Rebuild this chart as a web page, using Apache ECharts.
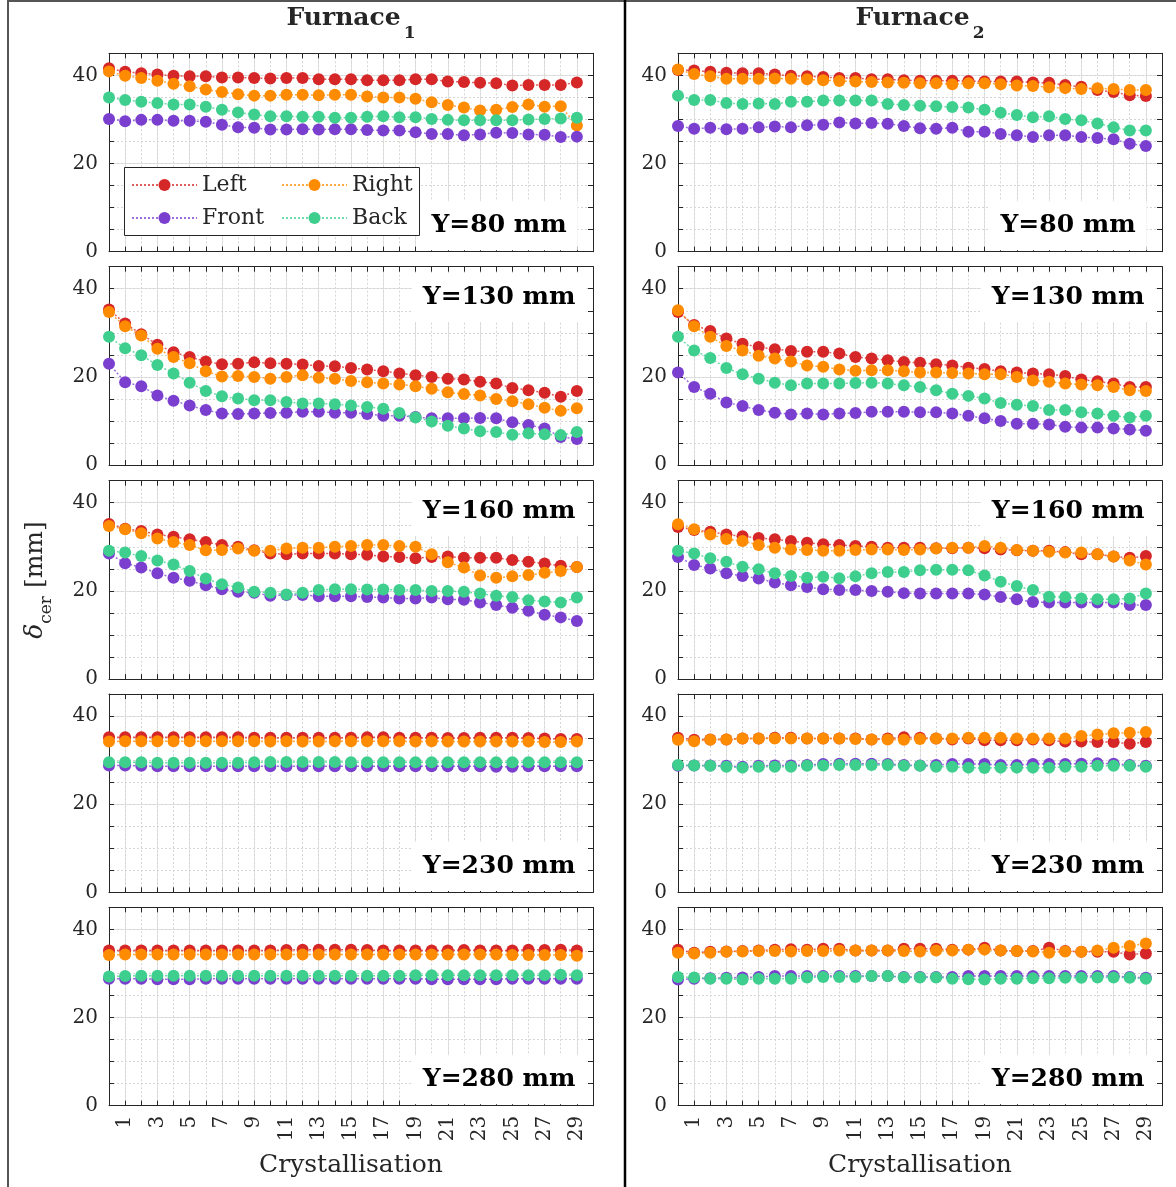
<!DOCTYPE html>
<html>
<head>
<meta charset="utf-8">
<script src="https://cdn.jsdelivr.net/npm/echarts@6/dist/echarts.min.js"></script>
<style>
  html, body { margin: 0; padding: 0; background: #ffffff; }
  #chart { width: 1176px; height: 1187px; }
</style>
</head>
<body>
<div id="chart"></div>
<script>
// ---- data -------------------------------------------------------------
const crystallisations = [0,1,2,3,4,5,6,7,8,9,10,11,12,13,14,15,16,17,18,19,20,21,22,23,24,25,26,27,28,29];
const xTickLabels = [1,3,5,7,9,11,13,15,17,19,21,23,25,27,29];
const yTickLabels = [0,20,40];
const sideNames = ['Left','Right','Front','Back'];
const furnaceTitles = ['Furnace', 'Furnace'];
const furnaceSubscripts = ['1', '2'];
const heightLabels = ['Y=80 mm','Y=130 mm','Y=160 mm','Y=230 mm','Y=280 mm'];

// Furnace 1
const f1_y80_left  = [41.6,40.8,40.5,40.2,39.9,39.8,39.8,39.5,39.5,39.4,39.3,39.4,39.4,39.1,39.1,39.1,38.9,38.9,38.9,39.1,39.1,38.6,38.5,38.3,38.2,37.7,37.8,37.8,37.8,38.4];
const f1_y80_right = [40.9,39.9,39.4,38.8,38.1,37.5,36.8,36.2,35.7,35.4,35.4,35.6,35.6,35.5,35.6,35.6,35.2,35.0,35.0,34.7,33.9,33.3,32.7,32.0,32.2,32.8,33.4,32.9,33.0,28.6];
const f1_y80_front = [30.1,29.6,29.9,29.9,29.7,29.7,29.5,28.8,28.2,28.1,27.7,27.7,27.8,27.7,27.8,27.8,27.6,27.5,27.5,27.1,26.7,26.7,26.4,26.6,27.0,26.9,26.6,26.5,26.0,26.1];
const f1_y80_back  = [35.0,34.4,34.0,33.7,33.4,33.4,32.9,32.2,31.6,31.1,30.7,30.7,30.6,30.6,30.4,30.4,30.6,30.7,30.5,30.5,30.1,29.9,29.8,29.8,29.8,29.8,30.0,30.1,30.2,30.4];

const f1_y130_left  = [35.3,32.1,29.7,27.3,25.6,24.5,23.5,22.9,23.0,23.3,23.1,23.0,22.8,22.5,22.4,22.0,21.7,21.3,20.8,20.4,20.0,19.6,19.4,18.9,18.5,17.5,17.0,16.4,15.5,16.8];
const f1_y130_right = [34.7,31.5,29.4,26.4,24.5,23.1,21.3,20.1,20.2,20.0,19.6,20.0,20.4,19.8,19.6,19.1,18.8,18.5,18.3,17.9,17.3,16.5,16.1,15.8,15.0,14.5,13.8,13.0,12.3,12.9];
const f1_y130_front = [23.0,18.8,17.9,15.8,14.6,13.5,12.5,11.7,11.6,11.7,11.8,11.9,12.1,12.1,11.9,11.9,11.6,11.2,11.2,10.9,10.6,10.6,10.6,10.7,10.6,9.7,9.1,8.3,6.4,5.9];
const f1_y130_back  = [29.1,26.5,24.9,22.7,20.8,18.7,16.8,15.6,15.1,14.7,14.7,14.3,14.0,14.0,13.8,13.5,13.2,12.8,11.8,10.8,9.9,8.9,8.3,7.7,7.5,6.9,7.2,7.0,6.8,7.5];

const f1_y160_left  = [35.2,34.1,33.6,32.8,32.3,31.7,31.1,30.4,30.0,29.2,28.5,28.3,28.5,28.5,28.5,28.3,28.2,27.8,27.7,27.4,27.7,27.8,27.5,27.5,27.5,27.0,26.6,26.2,25.7,25.4];
const f1_y160_right = [34.7,34.0,33.1,31.9,31.1,30.4,29.2,29.3,29.6,29.1,29.1,29.6,29.8,29.8,30.0,30.2,30.4,30.4,30.2,30.0,28.3,26.5,25.3,23.5,23.0,23.3,23.6,24.1,24.5,25.4];
const f1_y160_front = [28.5,26.3,25.3,24.0,23.0,22.3,21.3,20.4,19.8,19.6,18.9,19.1,19.1,18.8,18.8,18.8,18.6,18.5,18.3,18.3,18.5,18.1,18.0,17.4,16.8,16.2,15.5,14.6,14.0,13.2];
const f1_y160_back  = [29.1,28.7,27.9,26.9,26.0,24.5,22.8,21.5,20.8,19.8,19.6,19.2,19.6,20.2,20.4,20.4,20.3,20.3,20.2,20.2,20.0,20.0,19.8,19.4,18.9,18.6,17.9,17.6,17.4,18.5];

const f1_y230_left  = [35.2,35.2,35.2,35.2,35.2,35.2,35.2,35.2,35.2,35.1,35.1,35.1,35.1,35.1,35.1,35.1,35.2,35.2,35.1,35.1,35.1,35.0,35.0,35.1,35.1,35.1,35.0,34.9,34.8,34.8];
const f1_y230_right = [34.2,34.3,34.3,34.3,34.3,34.3,34.3,34.3,34.3,34.3,34.2,34.3,34.2,34.2,34.3,34.3,34.3,34.3,34.3,34.2,34.3,34.2,34.2,34.2,34.2,34.2,34.2,34.1,34.1,34.2];
const f1_y230_front = [28.8,28.8,28.7,28.6,28.6,28.6,28.6,28.6,28.6,28.6,28.6,28.6,28.6,28.6,28.6,28.6,28.6,28.6,28.6,28.6,28.6,28.6,28.6,28.6,28.5,28.5,28.6,28.6,28.6,28.6];
const f1_y230_back  = [29.5,29.5,29.5,29.4,29.4,29.4,29.4,29.4,29.4,29.5,29.6,29.6,29.6,29.6,29.6,29.5,29.5,29.5,29.5,29.5,29.5,29.5,29.5,29.5,29.5,29.5,29.5,29.5,29.5,29.5];

const f1_y280_left  = [35.2,35.2,35.2,35.2,35.2,35.2,35.2,35.2,35.2,35.2,35.2,35.3,35.4,35.4,35.4,35.4,35.3,35.2,35.2,35.2,35.2,35.2,35.3,35.2,35.2,35.2,35.4,35.3,35.4,35.2];
const f1_y280_right = [34.2,34.3,34.3,34.3,34.3,34.3,34.3,34.3,34.3,34.3,34.3,34.3,34.3,34.3,34.3,34.3,34.3,34.3,34.3,34.3,34.3,34.3,34.3,34.3,34.3,34.2,34.2,34.2,34.2,34.0];
const f1_y280_front = [28.8,28.8,28.8,28.7,28.7,28.7,28.8,28.8,28.8,28.8,28.8,28.8,28.8,28.8,28.8,28.8,28.8,28.8,28.8,28.8,28.7,28.7,28.7,28.7,28.7,28.8,28.8,28.8,28.8,28.8];
const f1_y280_back  = [29.3,29.4,29.5,29.5,29.5,29.5,29.5,29.5,29.5,29.5,29.5,29.5,29.5,29.5,29.5,29.5,29.5,29.5,29.5,29.6,29.6,29.6,29.6,29.6,29.6,29.6,29.6,29.6,29.7,29.6];

// Furnace 2
const f2_y80_left  = [41.2,41.1,40.8,40.6,40.5,40.5,40.2,39.9,39.8,39.6,39.4,39.4,39.1,39.1,38.9,38.8,38.8,38.8,38.7,38.6,38.6,38.6,38.4,38.3,37.8,37.4,36.7,36.2,35.5,35.3];
const f2_y80_right = [41.3,40.3,39.8,39.2,39.2,39.2,39.3,39.2,39.1,38.9,38.7,38.6,38.5,38.4,38.3,38.2,38.2,38.0,38.2,38.2,38.0,37.7,37.6,37.3,37.1,36.9,37.1,36.9,36.7,36.7];
const f2_y80_front = [28.5,27.9,28.1,27.8,27.9,28.2,28.4,28.2,28.7,28.8,29.3,29.1,29.2,29.0,28.5,28.0,27.9,28.1,27.2,27.2,26.7,26.4,26.0,26.4,26.4,26.0,25.8,25.5,24.5,24.0];
const f2_y80_back  = [35.4,34.4,34.4,33.7,33.5,33.6,33.5,34.0,34.0,34.3,34.3,34.3,34.3,33.5,33.3,33.1,33.0,32.8,32.7,32.2,31.5,31.0,30.5,30.7,30.1,29.8,29.1,28.2,27.5,27.5];

const f2_y130_left  = [34.7,31.8,30.4,28.7,27.5,26.8,26.3,25.9,25.7,25.7,25.3,24.5,24.2,23.8,23.4,23.2,22.9,22.6,22.1,21.8,21.3,21.0,20.8,20.6,20.2,19.4,19.0,18.5,17.7,17.7];
const f2_y130_right = [35.1,31.5,29.1,27.0,26.0,24.8,24.2,23.5,22.6,22.3,21.7,21.4,21.5,21.5,21.3,21.0,21.0,20.9,20.8,20.6,20.6,20.0,19.2,18.9,18.5,18.3,18.1,17.7,17.0,16.8];
const f2_y130_front = [21.0,17.7,16.2,14.2,13.4,12.5,11.9,11.5,11.7,11.5,11.7,11.8,12.1,12.1,12.1,12.0,12.0,11.7,11.2,10.6,10.0,9.4,9.4,9.2,8.7,8.5,8.5,8.3,8.1,7.8];
const f2_y130_back  = [29.1,26.0,24.3,22.0,20.6,19.6,18.7,18.1,18.5,18.5,18.5,18.6,18.7,18.5,18.1,17.7,17.0,16.2,15.7,15.1,14.1,13.7,13.4,12.5,12.5,12.0,11.7,11.2,10.8,11.2];

const f2_y160_left  = [34.5,33.8,33.4,32.8,32.4,32.0,31.7,31.3,30.9,30.6,30.4,30.2,30.0,29.8,29.8,29.8,29.7,29.7,29.8,29.7,29.4,29.2,29.1,29.1,28.8,28.3,28.3,27.8,27.5,27.9];
const f2_y160_right = [35.1,34.0,32.8,31.8,31.3,30.4,29.8,29.4,29.3,29.1,29.1,29.3,29.4,29.4,29.3,29.4,29.6,29.8,29.8,30.2,29.8,29.3,29.1,28.9,28.7,28.7,28.3,27.8,26.9,26.0];
const f2_y160_front = [27.7,25.9,25.1,24.0,23.4,22.8,21.9,21.3,20.9,20.4,20.2,20.2,20.0,19.8,19.5,19.4,19.4,19.4,19.4,19.2,18.6,18.1,17.5,17.4,17.4,17.4,17.4,17.4,16.8,16.8];
const f2_y160_back  = [29.1,28.5,27.4,26.6,25.5,24.9,24.0,23.4,23.0,23.2,22.9,23.3,24.0,24.3,24.3,24.7,24.8,24.8,24.7,23.5,22.1,21.1,20.2,18.7,18.6,18.3,18.1,18.1,18.3,19.4];

const f2_y230_left  = [35.1,34.6,34.7,34.7,34.9,34.9,35.1,35.1,34.9,34.9,34.9,34.9,34.7,34.9,35.2,35.1,34.9,34.7,34.9,34.5,34.5,34.5,34.7,34.5,34.2,34.2,34.1,34.1,33.7,34.1];
const f2_y230_right = [34.6,34.3,34.6,34.7,34.9,34.9,34.9,34.9,34.9,34.9,34.9,34.8,34.7,34.7,34.6,34.8,34.9,34.9,35.1,35.1,35.1,34.9,34.9,34.9,34.9,35.5,35.8,36.1,36.2,36.4];
const f2_y230_front = [28.7,28.8,28.8,28.7,28.5,28.7,28.8,28.8,28.9,29.1,29.2,29.2,29.2,29.1,28.9,28.8,28.9,29.1,29.1,29.1,28.9,28.9,29.1,29.1,29.1,29.2,29.3,29.2,28.9,28.7];
const f2_y230_back  = [28.9,28.8,28.7,28.5,28.3,28.5,28.5,28.5,28.7,28.8,28.9,28.9,28.9,28.9,28.7,28.7,28.5,28.5,28.3,28.2,28.3,28.3,28.3,28.3,28.5,28.5,28.7,28.7,28.7,28.5];

const f2_y280_left  = [35.4,34.7,34.9,35.0,35.1,35.2,35.4,35.5,35.4,35.6,35.6,35.2,35.2,35.2,35.6,35.6,35.6,35.4,35.4,35.8,35.2,35.1,35.1,35.8,35.1,34.9,34.9,34.9,34.3,34.5];
const f2_y280_right = [34.7,34.5,34.7,34.9,35.0,35.1,35.1,35.0,35.1,35.1,35.2,35.2,35.2,35.2,35.1,35.0,35.2,35.2,35.4,35.4,35.2,35.1,35.0,34.7,35.0,34.9,35.2,35.8,36.2,36.8];
const f2_y280_front = [28.6,28.8,28.9,29.0,29.1,29.2,29.4,29.4,29.4,29.4,29.4,29.4,29.4,29.4,29.2,29.2,29.2,29.2,29.4,29.4,29.4,29.4,29.4,29.4,29.4,29.4,29.4,29.4,29.2,29.0];
const f2_y280_back  = [29.2,29.1,28.8,28.8,28.6,28.8,28.8,28.8,29.1,29.2,29.2,29.2,29.4,29.4,29.1,29.1,29.1,28.8,28.7,28.6,28.8,28.8,28.9,28.9,29.0,29.0,29.1,29.1,29.0,28.8];

// ---- panel table (furnace column, height row) ----------------------------
const panels = [
  { col: 0, row: 0, labelAt: 'bottom', values: [f1_y80_left,  f1_y80_right,  f1_y80_front,  f1_y80_back]  },
  { col: 0, row: 1, labelAt: 'top',    values: [f1_y130_left, f1_y130_right, f1_y130_front, f1_y130_back] },
  { col: 0, row: 2, labelAt: 'top',    values: [f1_y160_left, f1_y160_right, f1_y160_front, f1_y160_back] },
  { col: 0, row: 3, labelAt: 'bottom', values: [f1_y230_left, f1_y230_right, f1_y230_front, f1_y230_back] },
  { col: 0, row: 4, labelAt: 'bottom', values: [f1_y280_left, f1_y280_right, f1_y280_front, f1_y280_back] },
  { col: 1, row: 0, labelAt: 'bottom', values: [f2_y80_left,  f2_y80_right,  f2_y80_front,  f2_y80_back]  },
  { col: 1, row: 1, labelAt: 'top',    values: [f2_y130_left, f2_y130_right, f2_y130_front, f2_y130_back] },
  { col: 1, row: 2, labelAt: 'top',    values: [f2_y160_left, f2_y160_right, f2_y160_front, f2_y160_back] },
  { col: 1, row: 3, labelAt: 'bottom', values: [f2_y230_left, f2_y230_right, f2_y230_front, f2_y230_back] },
  { col: 1, row: 4, labelAt: 'bottom', values: [f2_y280_left, f2_y280_right, f2_y280_front, f2_y280_back] }
];

// ---- styling ----------------------------------------------------------
const FONT = '"DejaVu Serif", "Liberation Serif", serif';
const TEXT = '#262626';
const AXIS = '#262626';
const MAJOR = '#e2e2e2';
const MINOR = '#d6d6d6';
const sideColors = ['#d62728', '#ff8c00', '#7b3fd0', '#3ecf8e'];

const colLeft = [109, 678];
const colWidth = 484;
const rowTop = [53.3, 266.7, 480.7, 694, 907.3];
const rowHeight = 198.4;

const grids = [], xAxes = [], yAxes = [], series = [], graphics = [];

function boxAxisCommon(g) {
  return {
    gridIndex: g, type: 'value',
    axisLine: { show: true, onZero: false, lineStyle: { color: AXIS, width: 1 } },
    axisTick: { show: true, inside: true, length: 5, lineStyle: { color: AXIS, width: 1 } }
  };
}

panels.forEach((p, g) => {
  const left = colLeft[p.col];
  const top = rowTop[p.row];
  const isBottomRow = p.row === 4;
  grids.push({ left: left, top: top, width: colWidth, height: rowHeight,
               containLabel: false, outerBoundsMode: 'none' });

  // bottom x axis: labels at odd crystallisations, solid grid at labelled ticks
  xAxes.push(Object.assign(boxAxisCommon(g), {
    position: 'bottom', min: 0, max: 30, interval: 1,
    axisLabel: {
      show: isBottomRow, rotate: 90, margin: 10,
      fontFamily: FONT, fontSize: 20, color: TEXT,
      formatter: v => (xTickLabels.indexOf(v) >= 0 ? String(v) : '')
    },
    splitLine: { show: true, lineStyle: { color: ['rgba(0,0,0,0)', MAJOR], width: 1 } },
    name: isBottomRow ? 'Crystallisation' : '',
    nameLocation: 'middle', nameGap: 47,
    nameTextStyle: { fontFamily: FONT, fontSize: 25, color: TEXT }
  }));
  // top x axis: box edge + dotted minor grid
  xAxes.push(Object.assign(boxAxisCommon(g), {
    position: 'top', min: 0, max: 30, interval: 1,
    axisLabel: { show: false },
    splitLine: { show: true, lineStyle: { color: MINOR, width: 1, type: [2, 2] } }
  }));
  // left y axis: labels 0/20/40, solid grid there
  yAxes.push(Object.assign(boxAxisCommon(g), {
    position: 'left', min: 0, max: 45, interval: 5,
    axisLabel: {
      show: true, margin: 11, fontFamily: FONT, fontSize: 20, color: TEXT,
      formatter: v => (yTickLabels.indexOf(v) >= 0 ? String(v) : '')
    },
    splitLine: { show: true, lineStyle: { color: [MAJOR, 'rgba(0,0,0,0)', 'rgba(0,0,0,0)', 'rgba(0,0,0,0)'], width: 1 } }
  }));
  // right y axis: box edge + dotted minor grid
  yAxes.push(Object.assign(boxAxisCommon(g), {
    position: 'right', min: 0, max: 45, interval: 5,
    axisLabel: { show: false },
    splitLine: { show: true, lineStyle: { color: MINOR, width: 1, type: [2, 2] } }
  }));

  sideNames.forEach((name, k) => {
    series.push({
      type: 'line', name: name,
      xAxisIndex: 2 * g, yAxisIndex: 2 * g,
      data: crystallisations.map((c, i) => [c, p.values[k][i]]),
      symbol: 'circle', symbolSize: 12, showSymbol: true, clip: false,
      lineStyle: { type: [2, 2], width: 1.5, color: sideColors[k], opacity: 0.75 },
      itemStyle: { color: sideColors[k] },
      emphasis: { disabled: true },
      silent: true, animation: false
    });
  });

  // height label with white box
  const labelY = p.labelAt === 'top' ? top + 30.8 : top + rowHeight - 26;
  graphics.push({
    type: 'text', z: 6,
    x: left + colWidth * 0.806, y: labelY,
    style: {
      text: heightLabels[p.row],
      fontFamily: FONT, fontSize: 25, fontWeight: 'bold', fill: '#000',
      align: 'center', verticalAlign: 'middle',
      backgroundColor: '#ffffff', padding: [12, 11]
    }
  });
});

// column titles
[0, 1].forEach(c => {
  graphics.push({
    type: 'text', z: 10,
    x: colLeft[c] + colWidth / 2, y: 18,
    style: {
      text: '{a|' + furnaceTitles[c] + '}{b|' + furnaceSubscripts[c] + '}',
      align: 'center', verticalAlign: 'middle',
      rich: {
        a: { fontFamily: FONT, fontSize: 25, fontWeight: 'bold', fill: TEXT, lineHeight: 48, verticalAlign: 'middle' },
        b: { fontFamily: FONT, fontSize: 17, fontWeight: 'bold', fill: TEXT, lineHeight: 17, verticalAlign: 'bottom', padding: [0, 0, 0, 3] }
      }
    }
  });
});

// shared y-axis title
graphics.push({
  type: 'text', z: 10, x: 35, y: 580, rotation: Math.PI / 2,
  style: {
    text: '{d|δ}{s|cer}{n| [mm]}',
    align: 'center', verticalAlign: 'middle',
    rich: {
      d: { fontFamily: FONT, fontSize: 25, fontStyle: 'italic', fill: TEXT, lineHeight: 40, verticalAlign: 'middle' },
      s: { fontFamily: FONT, fontSize: 17, fill: TEXT, lineHeight: 17, verticalAlign: 'bottom' },
      n: { fontFamily: FONT, fontSize: 25, fill: TEXT, lineHeight: 40, verticalAlign: 'middle' }
    }
  }
});

// legend frame
graphics.push({
  type: 'rect', z: 5,
  shape: { x: 124.5, y: 167.5, width: 295, height: 68 },
  style: { fill: '#ffffff', stroke: AXIS, lineWidth: 1 }
});

// figure frame and column divider
graphics.push({ type: 'line', z: 20, shape: { x1: 8, y1: 0, x2: 8, y2: 1187 }, style: { stroke: '#555555', lineWidth: 2 } });
graphics.push({ type: 'line', z: 20, shape: { x1: 8, y1: 1, x2: 1176, y2: 1 }, style: { stroke: '#555555', lineWidth: 2 } });
graphics.push({ type: 'line', z: 20, shape: { x1: 625, y1: 0, x2: 625, y2: 1187 }, style: { stroke: '#000000', lineWidth: 2.5 } });

const legendCommon = {
  orient: 'vertical', top: 173, itemWidth: 65, itemHeight: 15, itemGap: 9,
  padding: 0, selectedMode: false, z: 10,
  textStyle: { fontFamily: FONT, fontSize: 22, color: TEXT, lineHeight: 24 }
};

const option = {
  backgroundColor: '#ffffff',
  animation: false,
  grid: grids,
  xAxis: xAxes,
  yAxis: yAxes,
  legend: [
    Object.assign({ left: 131, data: ['Left', 'Front'] }, legendCommon),
    Object.assign({ left: 281, data: ['Right', 'Back'] }, legendCommon)
  ],
  graphic: { elements: graphics },
  series: series
};

const chart = echarts.init(document.getElementById('chart'), null, { renderer: 'canvas' });
chart.setOption(option);
</script>
</body>
</html>
